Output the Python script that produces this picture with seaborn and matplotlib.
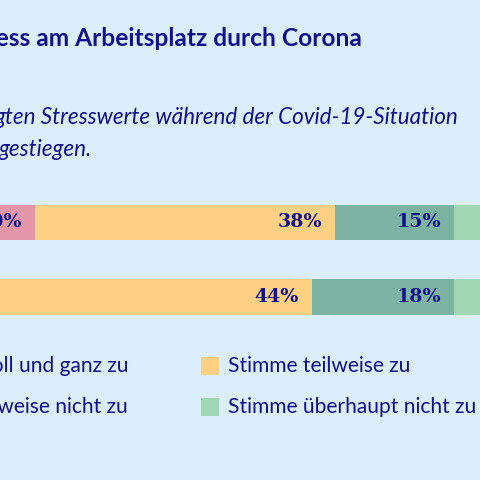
import matplotlib
matplotlib.use("Agg")
import matplotlib.pyplot as plt
import seaborn as sns
import pandas as pd
from matplotlib.patches import Rectangle

categories = ["Stimme voll und ganz zu", "Stimme teilweise zu", "Stimme teilweise nicht zu", "Stimme überhaupt nicht zu"]
groups = ["A", "B"]
values = {
    "Stimme voll und ganz zu": [10, 1],
    "Stimme teilweise zu": [38, 44],
    "Stimme teilweise nicht zu": [15, 18],
    "Stimme überhaupt nicht zu": [37, 37],
}
colors = ["#e296a8", "#fdd083", "#7db3a3", "#a0d6b4"]
navy = "#10108a"
bg = "#dbeefb"

sns.set_theme(style="white")
plt.rcParams["font.family"] = ["Lato", "DejaVu Sans"]

W = H = 480
fig = plt.figure(figsize=(W/72, H/72), dpi=72, facecolor=bg)
px = 7.9
x0 = -44
ax = fig.add_axes([x0/W, (H-355)/H, 100*px/W, 150/H])
ax.set_facecolor(bg)
ax.set_xlim(0, 100)
ax.set_ylim(1.77, -0.23)
ax.axis("off")

left = [0.0]*len(groups)
rows = []
for c in categories:
    for i, g in enumerate(groups):
        rows.append({"g": i, "cat": c, "v": values[c][i]})
df = pd.DataFrame(rows)
for ci, c in enumerate(categories):
    sub = df[df.cat == c]
    ax.barh(sub.g, sub.v, left=left, height=0.48, color=colors[ci], linewidth=0)
    for i, v in enumerate(sub.v):
        end = left[i] + v
        if v >= 5:
            ax.text(end - 1.6, i, f"{v}%", ha="right", va="center", color=navy,
                    fontsize=19, fontweight="bold", family="DejaVu Serif")
        left[i] = end

fig.text(-36/W, 1-38/H, "Stress am Arbeitsplatz durch Corona", color=navy,
         fontsize=24.5, fontweight="bold", va="center", ha="left")
fig.text(-5/W, 1-118/H, "gten Stresswerte während der Covid-19-Situation", color=navy,
         fontsize=22.5, style="italic", va="center", ha="left")
fig.text(-1/W, 1-150/H, "gestiegen.", color=navy,
         fontsize=22.5, style="italic", va="center", ha="left")

leg = [(categories[0], 0, 0), (categories[1], 1, 0), (categories[2], 0, 1), (categories[3], 1, 1)]
for name, col, row in leg:
    yc = 1 - (366 + row*41)/H
    ci = categories.index(name)
    if col == 1:
        fig.patches.append(Rectangle((201/W, yc - 9/H), 18/W, 18/H, transform=fig.transFigure,
                                     color=colors[ci], linewidth=0))
        fig.text(228/W, yc, name, color=navy, fontsize=21, va="center", ha="left")
    else:
        fig.text(128/W, yc, name, color=navy, fontsize=21, va="center", ha="right")

fig.savefig("out.png", dpi=72, facecolor=bg)
